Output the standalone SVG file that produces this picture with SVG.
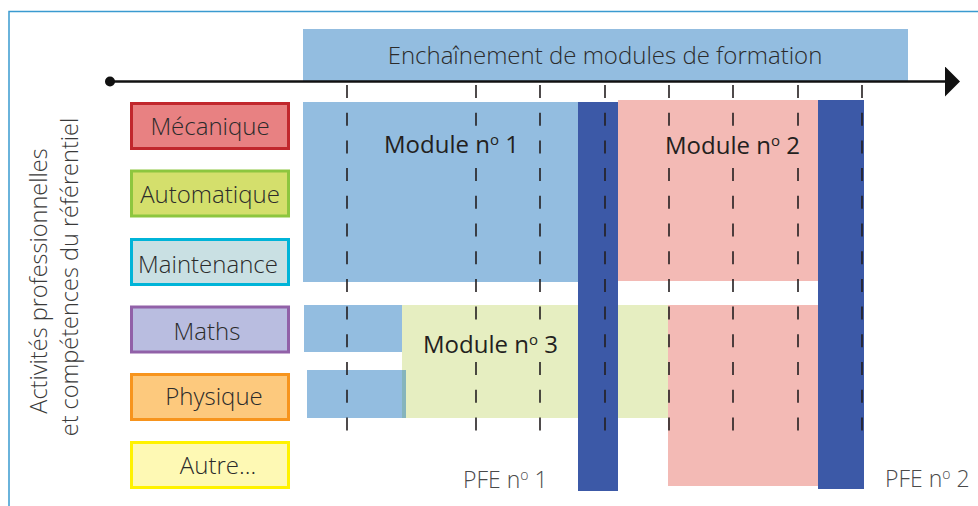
<svg xmlns="http://www.w3.org/2000/svg" width="978" height="506" viewBox="0 0 978 506">
  <style>
    .lbl { font-family: "Open Sans", "Liberation Sans", sans-serif; font-size: 24px; font-weight: 300; fill: #2b2b2b; text-anchor: middle; }
    .mod { font-family: "Open Sans", "Liberation Sans", sans-serif; font-size: 24px; font-weight: 400; fill: #231f20; }
    .side { font-family: "Open Sans", "Liberation Sans", sans-serif; font-size: 23.5px; font-weight: 300; fill: #3a3a3a; text-anchor: middle; }
    .pfe { font-family: "Open Sans", "Liberation Sans", sans-serif; font-size: 23px; font-weight: 300; fill: #4a4a4a; }
    .box { stroke-width: 3; }
    .blue { fill: #93bde0; }
    .pink { fill: #f3bab5; }
    .green { fill: #e6eec1; }
    .dark { fill: #3c59a7; }
    .grid { stroke: #231f20; stroke-width: 1.6; stroke-dasharray: 13 14.7; fill: none; }
  </style>
  <defs>
    <marker id="arrow" markerWidth="15" markerHeight="30" refX="0" refY="15" orient="auto" markerUnits="userSpaceOnUse">
      <polygon points="0,0 15,15 0,30" fill="#111"/>
    </marker>
  </defs>

  <rect width="978" height="506" fill="#ffffff"/>

  <!-- outer frame (open to the right and bottom) -->
  <g id="frame">
    <path d="M9,506 V11.5 H978" fill="none" stroke="#3a9ad0" stroke-width="1.5"/>
  </g>

  <!-- header bar -->
  <g id="header">
    <rect class="blue" x="303" y="29" width="605" height="52"/>
    <text class="lbl" x="605" y="64" font-size="24.5">Enchaînement de modules de formation</text>
  </g>

  <!-- training modules -->
  <g id="module1">
    <rect class="blue" x="303" y="102" width="276" height="180"/>
  </g>
  <g id="module2">
    <rect class="pink" x="618" y="100" width="200" height="181"/>
    <rect class="pink" x="668" y="305" width="150" height="181"/>
  </g>
  <g id="module3">
    <rect class="green" x="402" y="305" width="266" height="113"/>
  </g>
  <g id="module1-tails">
    <rect class="blue" x="304" y="305" width="98" height="47"/>
    <rect class="blue" x="307" y="370" width="95" height="48"/>
    <rect fill="#86b4bc" x="402" y="370" width="4" height="48"/>
  </g>

  <!-- end-of-training projects -->
  <g id="pfe1">
    <rect class="dark" x="578" y="102" width="40" height="389"/>
  </g>
  <g id="pfe2">
    <rect class="dark" x="818" y="100" width="46" height="389"/>
  </g>

  <!-- time grid -->
  <g id="connectors">
    <g id="grid">
      <line class="grid" x1="347" y1="85" x2="347" y2="432"/>
      <line class="grid" x1="476" y1="85" x2="476" y2="432"/>
      <line class="grid" x1="540" y1="85" x2="540" y2="432"/>
      <line class="grid" x1="605" y1="85" x2="605" y2="432"/>
      <line class="grid" x1="669" y1="85" x2="669" y2="432"/>
      <line class="grid" x1="733" y1="85" x2="733" y2="432"/>
      <line class="grid" x1="798" y1="85" x2="798" y2="432"/>
      <line class="grid" x1="862" y1="85" x2="862" y2="432"/>
    </g>
    <g id="timeline">
      <circle cx="110" cy="81.5" r="5" fill="#111"/>
      <line x1="110" y1="81.5" x2="945" y2="81.5" stroke="#111" stroke-width="2.6" marker-end="url(#arrow)"/>
    </g>
  </g>

  <!-- module labels (backed by the module colour so the grid stops around them) -->
  <g id="module-labels">
    <rect class="blue" x="381" y="132" width="142" height="28"/>
    <text class="mod" x="384" y="153">Module n<tspan font-size="15" dy="-8">o</tspan><tspan dy="8"> 1</tspan></text>
    <rect class="pink" x="662" y="133" width="143" height="28"/>
    <text class="mod" x="665" y="154">Module n<tspan font-size="15" dy="-8">o</tspan><tspan dy="8"> 2</tspan></text>
    <rect class="green" x="420" y="332" width="143" height="28"/>
    <text class="mod" x="423" y="353">Module n<tspan font-size="15" dy="-8">o</tspan><tspan dy="8"> 3</tspan></text>
  </g>

  <!-- PFE labels -->
  <g id="pfe-labels">
    <text class="pfe" x="463" y="488">PFE n<tspan font-size="14" dy="-8">o</tspan><tspan dy="8"> 1</tspan></text>
    <text class="pfe" x="885" y="487">PFE n<tspan font-size="14" dy="-8">o</tspan><tspan dy="8"> 2</tspan></text>
  </g>

  <!-- subject boxes -->
  <g id="mecanique">
    <rect class="box" x="131.5" y="103.5" width="157" height="45" fill="#e88182" stroke="#c1272d"/>
    <text class="lbl" x="210" y="135">Mécanique</text>
  </g>
  <g id="automatique">
    <rect class="box" x="131.5" y="171" width="157" height="45" fill="#d4df6c" stroke="#8dc63f"/>
    <text class="lbl" x="210" y="203">Automatique</text>
  </g>
  <g id="maintenance">
    <rect class="box" x="131.5" y="239.5" width="157" height="45" fill="#c9e0e3" stroke="#00b4d8"/>
    <text class="lbl" x="208" y="273">Maintenance</text>
  </g>
  <g id="maths">
    <rect class="box" x="131.5" y="307" width="157" height="45" fill="#b9bde0" stroke="#9161a8"/>
    <text class="lbl" x="207" y="340">Maths</text>
  </g>
  <g id="physique">
    <rect class="box" x="131.5" y="374.5" width="157" height="45" fill="#fdc97d" stroke="#f7941d"/>
    <text class="lbl" x="214" y="405">Physique</text>
  </g>
  <g id="autre">
    <rect class="box" x="131.5" y="442.5" width="157" height="45" fill="#fef9b4" stroke="#fff200"/>
    <text class="lbl" x="218" y="474">Autre…</text>
  </g>

  <!-- vertical axis title -->
  <g id="axis-title">
    <text class="side" transform="translate(47,281) rotate(-90)">Activités professionnelles</text>
    <text class="side" transform="translate(78,277) rotate(-90)">et compétences du référentiel</text>
  </g>
</svg>
